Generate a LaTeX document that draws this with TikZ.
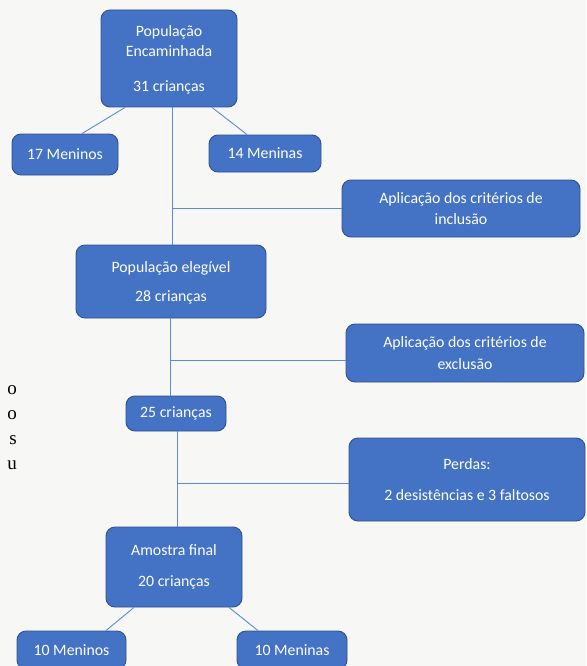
\documentclass[tikz,border=0pt]{standalone}
\usepackage{fontspec}
\setmainfont{Carlito}
\newfontfamily\serifpart{Liberation Serif}
\usetikzlibrary{calc}
\definecolor{boxfill}{HTML}{4472C4}
\definecolor{boxdraw}{HTML}{2F528F}
\definecolor{linkc}{HTML}{5B8BD6}
\definecolor{paper}{HTML}{F7F7F5}
\tikzset{
  box/.style={draw=boxdraw, line width=0.9pt, fill=boxfill, rounded corners=9pt,
    text=white, font=\fontsize{15.8}{19.5}\selectfont, align=center, inner sep=0pt},
  link/.style={draw=linkc, line width=0.9pt}
}
\begin{document}
\begin{tikzpicture}[x=1pt,y=-1pt]
\fill[paper] (0,0) rectangle (586,666);
\useasboundingbox (0,0) rectangle (586,666);

\node[box, minimum width=136pt, minimum height=97pt, text depth=0pt] (top) at (169,58.5)
  {População\\[1pt]Encaminhada\\[15pt]31 crianças};
\node[box, minimum width=106pt, minimum height=41pt] (m1) at (65,154.5) {17 Meninos};
\node[box, minimum width=112pt, minimum height=37pt] (f1) at (265,153.5) {14 Meninas};
\node[box, minimum width=238pt, minimum height=57pt, text depth=0pt] (inc) at (461,208.5)
  {Aplicação dos critérios de\\[2pt]inclusão};
\node[box, minimum width=190pt, minimum height=73pt, text depth=0pt] (eleg) at (171,281.5)
  {População elegível\\[10pt]28 crianças};
\node[box, minimum width=238pt, minimum height=58pt] (exc) at (465,353)
  {Aplicação dos critérios de\\[2pt]exclusão};
\node[box, minimum width=100pt, minimum height=35pt] (n25) at (176,413.5) {25 crianças};
\node[box, minimum width=236pt, minimum height=83pt] (perd) at (467,479.5)
  {Perdas:\\[11pt]2 desistências e 3 faltosos};
\node[box, minimum width=136pt, minimum height=80pt] (amo) at (174,567)
  {Amostra final\\[12pt]20 crianças};
\node[box, minimum width=109pt, minimum height=38pt] (m2) at (71.5,650) {10 Meninos};
\node[box, minimum width=110pt, minimum height=38pt] (f2) at (292,650) {10 Meninas};

\node[font=\serifpart\fontsize{19}{25}\selectfont, align=right, anchor=north east, inner sep=0pt]
  (frag) at (17,385) {o\\o\\s\\u};

% connectors
\draw[link] ($(top.south)+(-44,0)$) -- ($(m1.north)+(17,0)$);
\draw[link] ($(top.south)+(43,0)$) -- ($(f1.north)+(-18,0)$);
\coordinate (v1) at (172,0);
\draw[link] (top.south -| v1) -- (eleg.north -| v1);
\draw[link] (inc.west) -- (inc.west -| v1);
\coordinate (v2) at (170,0);
\draw[link] (eleg.south -| v2) -- (n25.north -| v2);
\draw[link] (exc.west |- 0,360) -- (v2 |- 0,360);
\coordinate (v3) at (177,0);
\draw[link] (n25.south -| v3) -- (amo.north -| v3);
\draw[link] (perd.west |- 0,483) -- (v3 |- 0,483);
\draw[link] ($(amo.south)+(-40,0)$) -- ($(m2.north)+(34.5,0)$);
\draw[link] ($(amo.south)+(55,0)$) -- ($(f2.north)+(-34,0)$);
\end{tikzpicture}
\end{document}
